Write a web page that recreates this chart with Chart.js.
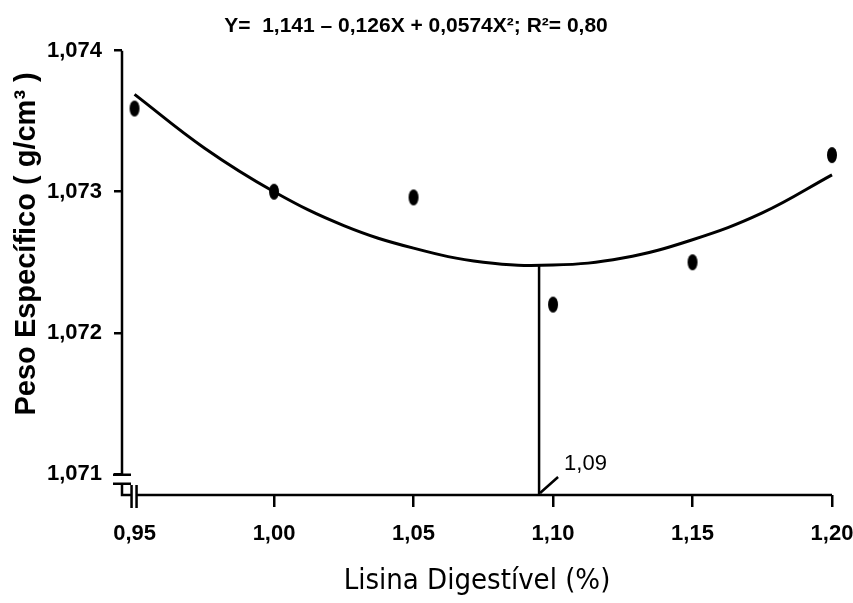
<!DOCTYPE html>
<html>
<head>
<meta charset="utf-8">
<script src="https://cdn.jsdelivr.net/npm/chart.js@4.4.1/dist/chart.umd.min.js"></script>
<style>
  html, body { margin: 0; padding: 0; background: #fff; }
  #wrap { width: 853px; height: 603px; }
</style>
</head>
<body>
<div id="wrap"><canvas id="chart"></canvas></div>
<script>
// observed means
const lysine = [0.95, 1.00, 1.05, 1.10, 1.15, 1.20]
const density = [1.07359, 1.07300, 1.07296, 1.07220, 1.07250, 1.07326]
// fitted curve
const curveX = [0.95, 0.975, 1.00, 1.025, 1.05, 1.075, 1.10, 1.125, 1.15, 1.175, 1.20]
const curveY = [1.07369, 1.07331, 1.07300, 1.07276, 1.07260, 1.07250, 1.07248, 1.07253, 1.07266, 1.07285, 1.07312]
const xTicks = [0.95, 1.00, 1.05, 1.10, 1.15, 1.20]
const xTickLabels = ['0,95', '1,00', '1,05', '1,10', '1,15', '1,20']
const yTicks = [1.071, 1.072, 1.073, 1.074]
const yTickLabels = ['1,071', '1,072', '1,073', '1,074']
const optimumX = 1.095
const optimumY = 1.07248
const optimumLabel = '1,09'
const xMin = 0.9455
const yMin = 1.07085

const ARIAL = '"Liberation Sans", Arial, sans-serif'
const NARROW = '"DejaVu Sans Condensed", "Liberation Sans", sans-serif'

// dots in the figure are slightly taller than wide
const dot = document.createElement('canvas')
dot.width = 12
dot.height = 18
const dctx = dot.getContext('2d')
dctx.fillStyle = '#000'
dctx.beginPath()
dctx.ellipse(6, 9, 5, 8, 0, 0, Math.PI * 2)
dctx.fill()

const axisLayer = {
    id: 'axisLayer',
    afterDatasetsDraw(chart) {
        const { ctx, chartArea: a, scales: { x, y } } = chart
        const y71 = y.getPixelForValue(yTicks[0])
        const x95 = x.getPixelForValue(xTicks[0])
        ctx.save()
        ctx.strokeStyle = '#000'
        ctx.lineWidth = 2.5
        ctx.beginPath()
        // y axis with break
        ctx.moveTo(a.left, a.top)
        ctx.lineTo(a.left, y71)
        ctx.moveTo(a.left - 9, y71 + 1)
        ctx.lineTo(a.left + 9, y71 + 1)
        ctx.moveTo(a.left - 9, y71 + 10)
        ctx.lineTo(a.left + 9, y71 + 10)
        ctx.moveTo(a.left, y71 + 10)
        ctx.lineTo(a.left, a.bottom)
        ctx.lineTo(x95 - 3, a.bottom)
        // x axis break bars
        ctx.moveTo(x95 - 3, a.bottom - 10)
        ctx.lineTo(x95 - 3, a.bottom + 13)
        ctx.moveTo(x95 + 2, a.bottom - 10)
        ctx.lineTo(x95 + 2, a.bottom + 13)
        ctx.moveTo(x95 + 2, a.bottom)
        ctx.lineTo(a.right, a.bottom)
        // leader to the optimum label
        const ox = x.getPixelForValue(optimumX)
        ctx.moveTo(ox + 1, a.bottom - 2)
        ctx.lineTo(ox + 19, a.bottom - 18)
        ctx.stroke()

        ctx.fillStyle = '#000'
        ctx.font = '22px ' + ARIAL
        ctx.textAlign = 'left'
        ctx.textBaseline = 'alphabetic'
        ctx.fillText(optimumLabel, ox + 25, a.bottom - 25)

        // y axis title
        ctx.translate(27, (a.top + a.bottom) / 2 - 29)
        ctx.rotate(-Math.PI / 2)
        ctx.font = 'bold 29px ' + ARIAL
        ctx.textAlign = 'center'
        ctx.textBaseline = 'middle'
        ctx.fillText('Peso Específico ( g/cm³ )', 0, 0)
        ctx.restore()
    }
}

new Chart(document.getElementById('chart'), {
    type: 'scatter',
    data: {
        datasets: [
            {
                type: 'scatter',
                data: lysine.map((v, i) => ({ x: v, y: density[i] })),
                pointStyle: dot,
                backgroundColor: '#000',
                borderColor: '#000',
                clip: false,
                order: 0
            },
            {
                type: 'line',
                data: curveX.map((v, i) => ({ x: v, y: curveY[i] })),
                borderColor: '#000',
                borderWidth: 3,
                pointRadius: 0,
                tension: 0.4,
                fill: false,
                clip: false,
                order: 1
            },
            {
                type: 'line',
                data: [{ x: optimumX, y: optimumY }, { x: optimumX, y: yMin }],
                borderColor: '#000',
                borderWidth: 2.5,
                pointRadius: 0,
                fill: false,
                order: 2
            }
        ]
    },
    options: {
        responsive: true,
        maintainAspectRatio: false,
        animation: false,
        layout: { padding: { left: 0, right: 21, top: 0, bottom: 0 } },
        plugins: {
            legend: { display: false },
            tooltip: { enabled: false },
            title: {
                display: true,
                text: 'Y=  1,141 – 0,126X + 0,0574X²; R²= 0,80',
                color: '#000',
                font: { family: ARIAL, size: 21, weight: 'bold', lineHeight: 1.2 },
                padding: { top: 14, bottom: 11.5 }
            }
        },
        scales: {
            x: {
                type: 'linear',
                min: xMin,
                max: 1.20,
                afterBuildTicks: s => { s.ticks = xTicks.map(v => ({ value: v })) },
                afterFit: s => {
                    s.height = 108
                    s.paddingLeft = 0
                    s.paddingRight = 0
                },
                border: { display: false },
                grid: {
                    drawOnChartArea: false,
                    tickLength: 12,
                    lineWidth: 2.5,
                    color: c => (c.tick && c.tick.value === xTicks[0]) ? 'rgba(0,0,0,0)' : '#000'
                },
                ticks: {
                    color: '#000',
                    padding: 14,
                    maxRotation: 0,
                    font: { family: ARIAL, size: 22, weight: 'bold' },
                    callback: (v, i) => xTickLabels[i]
                },
                title: {
                    display: true,
                    text: 'Lisina Digestível (%)',
                    color: '#000',
                    font: { family: NARROW, size: 29 },
                    padding: { top: 0, bottom: 4 }
                }
            },
            y: {
                min: yMin,
                max: 1.074,
                afterBuildTicks: s => { s.ticks = yTicks.map(v => ({ value: v })) },
                afterFit: s => {
                    s.width = 122
                    s.paddingTop = 0
                    s.paddingBottom = 0
                },
                border: { display: false },
                grid: {
                    drawOnChartArea: false,
                    tickLength: 8,
                    lineWidth: 2.5,
                    color: '#000'
                },
                ticks: {
                    color: '#000',
                    padding: 12,
                    font: { family: ARIAL, size: 22, weight: 'bold' },
                    callback: (v, i) => yTickLabels[i]
                }
            }
        }
    },
    plugins: [axisLayer]
})
</script>
</body>
</html>
